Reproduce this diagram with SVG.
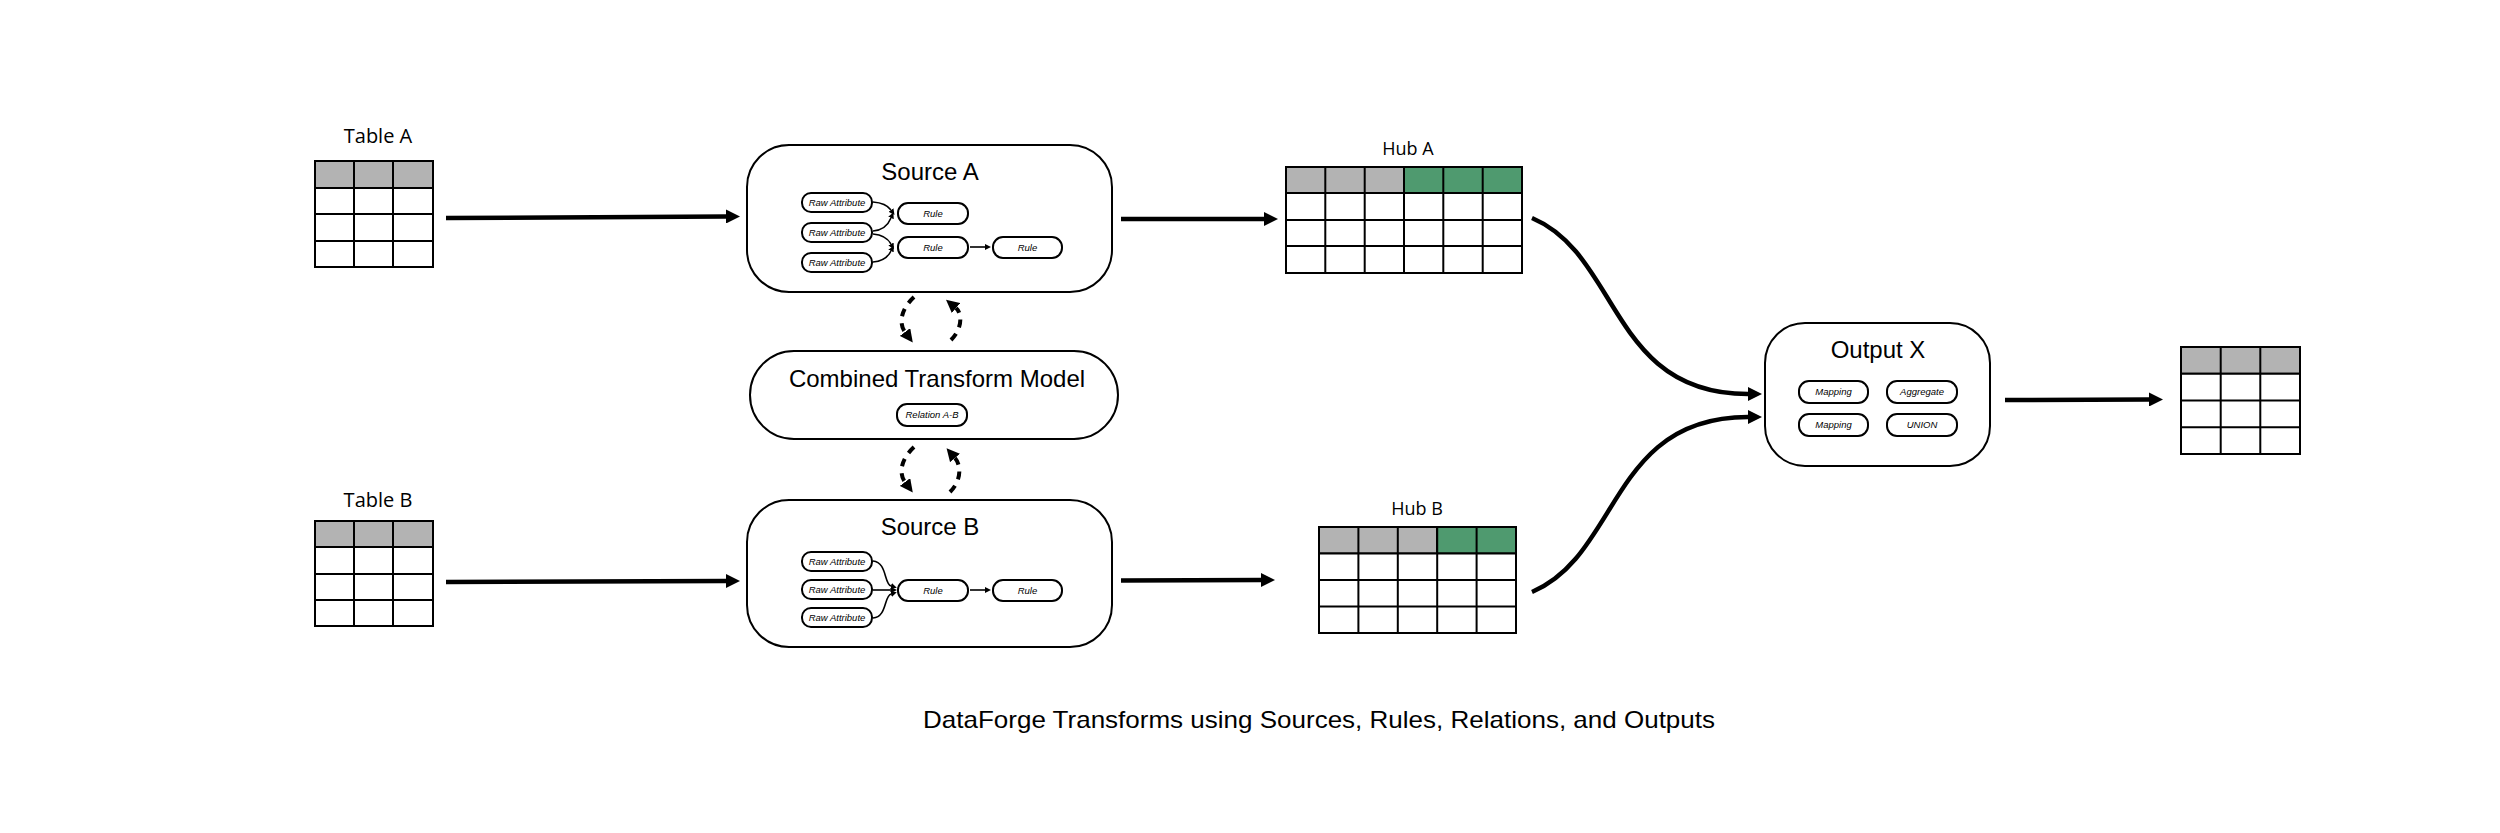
<svg xmlns="http://www.w3.org/2000/svg" width="2500" height="833" viewBox="0 0 2500 833">
<style>
.bg{fill:#ffffff}
.cell{fill:#ffffff;stroke:#000;stroke-width:2}
.hdr{fill:#b3b3b3;stroke:#000;stroke-width:2}
.grn{fill:#4f9a6f;stroke:#000;stroke-width:2}
.gl{stroke:#000;stroke-width:2;fill:none}
.box{fill:#fff;stroke:#000;stroke-width:2}
.sbox{fill:#fff;stroke:#000;stroke-width:2}
.lbl{font-family:"Open Sans","Liberation Sans",sans-serif;fill:#000;text-anchor:middle}
.hand{font-family:"Liberation Sans","DejaVu Sans",sans-serif;fill:#000;text-anchor:middle;font-size:24px}
.small{font-family:"Liberation Sans","DejaVu Sans",sans-serif;fill:#000;text-anchor:middle;font-size:9.5px;font-style:italic}
.conn{fill:none;stroke:#000;stroke-width:4.5}
.sconn{fill:none;stroke:#000;stroke-width:1.6}
.dash{fill:none;stroke:#000;stroke-width:4;stroke-dasharray:8 7}
</style>
<defs>
<marker id="ah" viewBox="0 0 14 14" refX="0" refY="7" markerWidth="14" markerHeight="14" markerUnits="userSpaceOnUse" orient="auto"><path d="M0,0 L14,7 L0,14 z" fill="#000"/></marker>
<marker id="ahd" viewBox="0 0 13 13" refX="0" refY="6.5" markerWidth="13" markerHeight="13" markerUnits="userSpaceOnUse" orient="auto"><path d="M0,0 L13,6.5 L0,13 z" fill="#000"/></marker>
<marker id="ahs" viewBox="0 0 6 6" refX="0" refY="3" markerWidth="6" markerHeight="6" markerUnits="userSpaceOnUse" orient="auto"><path d="M0,0 L6,3 L0,6 z" fill="#000"/></marker>
</defs>
<rect class="bg" x="0" y="0" width="2500" height="833"/>

<g id="table-a">
<text class="lbl" x="378" y="143" font-size="20">Table A</text>
<rect class="hdr" x="315" y="161" width="118" height="27"/>
<rect class="cell" x="315" y="188" width="118" height="79"/>
<path class="gl" d="M354,161 V267 M393,161 V267 M315,214 H433 M315,241 H433"/>
</g>

<g id="table-b">
<text class="lbl" x="378" y="507" font-size="20">Table B</text>
<rect class="hdr" x="315" y="521" width="118" height="26"/>
<rect class="cell" x="315" y="547" width="118" height="79"/>
<path class="gl" d="M354,521 V626 M393,521 V626 M315,574 H433 M315,600 H433"/>
</g>

<g id="source-a">
<rect class="box" x="747" y="145" width="365" height="147" rx="42"/>
<text class="hand" x="930" y="180">Source A</text>
<rect class="sbox" x="802" y="193" width="70" height="19" rx="9"/>
<text class="small" x="837" y="205.5">Raw Attribute</text>
<rect class="sbox" x="802" y="223" width="70" height="19" rx="9"/>
<text class="small" x="837" y="235.5">Raw Attribute</text>
<rect class="sbox" x="802" y="253" width="70" height="19" rx="9"/>
<text class="small" x="837" y="265.5">Raw Attribute</text>
<rect class="sbox" x="898" y="203" width="70" height="21" rx="10"/>
<text class="small" x="933" y="216.5">Rule</text>
<rect class="sbox" x="898" y="237" width="70" height="21" rx="10"/>
<text class="small" x="933" y="250.5">Rule</text>
<rect class="sbox" x="993" y="237" width="69" height="21" rx="10"/>
<text class="small" x="1027.5" y="250.5">Rule</text>
<path class="sconn" marker-end="url(#ahs)" d="M873,202 Q886,203 891,210"/>
<path class="sconn" marker-end="url(#ahs)" d="M873,231 Q886,230 891,218"/>
<path class="sconn" marker-end="url(#ahs)" d="M873,234 Q886,235 891,244"/>
<path class="sconn" marker-end="url(#ahs)" d="M873,262 Q886,261 891,251"/>
<path class="sconn" marker-end="url(#ahs)" d="M970,247 L985,247"/>
</g>

<g id="combined-model">
<rect class="box" x="750" y="351" width="368" height="88" rx="44"/>
<text class="hand" x="937" y="387">Combined Transform Model</text>
<rect class="sbox" x="897" y="404" width="70" height="22" rx="10"/>
<text class="small" x="932" y="418">Relation A-B</text>
</g>

<g id="source-b">
<rect class="box" x="747" y="500" width="365" height="147" rx="42"/>
<text class="hand" x="930" y="535">Source B</text>
<rect class="sbox" x="802" y="552" width="70" height="19" rx="9"/>
<text class="small" x="837" y="564.5">Raw Attribute</text>
<rect class="sbox" x="802" y="580" width="70" height="19" rx="9"/>
<text class="small" x="837" y="592.5">Raw Attribute</text>
<rect class="sbox" x="802" y="608" width="70" height="19" rx="9"/>
<text class="small" x="837" y="620.5">Raw Attribute</text>
<rect class="sbox" x="898" y="580" width="70" height="21" rx="10"/>
<text class="small" x="933" y="593.5">Rule</text>
<rect class="sbox" x="993" y="580" width="69" height="21" rx="10"/>
<text class="small" x="1027.5" y="593.5">Rule</text>
<path class="sconn" marker-end="url(#ahs)" d="M873,561 C887,562 884,584 891,586"/>
<path class="sconn" marker-end="url(#ahs)" d="M873,590 L891,590"/>
<path class="sconn" marker-end="url(#ahs)" d="M873,618 C887,617 884,596 891,594"/>
<path class="sconn" marker-end="url(#ahs)" d="M970,590 L985,590"/>
</g>

<g id="hub-a">
<text class="lbl" x="1408" y="155" font-size="18">Hub A</text>
<rect class="hdr" x="1286" y="167" width="118" height="26"/>
<rect class="grn" x="1404" y="167" width="118" height="26"/>
<rect class="cell" x="1286" y="193" width="236" height="80"/>
<path class="gl" d="M1325.3,167 V273 M1364.7,167 V273 M1404,167 V273 M1443.3,167 V273 M1482.7,167 V273 M1286,220 H1522 M1286,246 H1522"/>
</g>

<g id="hub-b">
<text class="lbl" x="1417" y="515" font-size="18">Hub B</text>
<rect class="hdr" x="1319" y="527" width="118" height="26.5"/>
<rect class="grn" x="1437" y="527" width="79" height="26.5"/>
<rect class="cell" x="1319" y="553.5" width="197" height="79.5"/>
<path class="gl" d="M1358.4,527 V633 M1397.8,527 V633 M1437.2,527 V633 M1476.6,527 V633 M1319,580 H1516 M1319,606.5 H1516"/>
</g>

<g id="output-x">
<rect class="box" x="1765" y="323" width="225" height="143" rx="40"/>
<text class="hand" x="1878" y="358">Output X</text>
<rect class="sbox" x="1799" y="381" width="69" height="22" rx="10"/>
<text class="small" x="1833.5" y="395" font-style="normal">Mapping</text>
<rect class="sbox" x="1887" y="381" width="70" height="22" rx="10"/>
<text class="small" x="1922" y="395" font-style="normal">Aggregate</text>
<rect class="sbox" x="1799" y="414" width="69" height="22" rx="10"/>
<text class="small" x="1833.5" y="428" font-style="normal">Mapping</text>
<rect class="sbox" x="1887" y="414" width="70" height="22" rx="10"/>
<text class="small" x="1922" y="428" font-style="normal">UNION</text>
</g>

<g id="final-table">
<rect class="hdr" x="2181" y="347" width="119" height="26.75"/>
<rect class="cell" x="2181" y="373.75" width="119" height="80.25"/>
<path class="gl" d="M2220.7,347 V454 M2260.3,347 V454 M2181,400.5 H2300 M2181,427.25 H2300"/>
</g>

<g id="connectors">
<path class="conn" marker-end="url(#ah)" d="M446,218 L726,216.5"/>
<path class="conn" marker-end="url(#ah)" d="M446,582 L726,581"/>
<path class="conn" marker-end="url(#ah)" d="M1121,219 L1264,219"/>
<path class="conn" marker-end="url(#ah)" d="M1121,580.5 L1261,580"/>
<path class="conn" marker-end="url(#ah)" d="M1532,218 C1620,255 1610,394 1748,394"/>
<path class="conn" marker-end="url(#ah)" d="M1532,592 C1620,555 1610,417 1748,417"/>
<path class="conn" marker-end="url(#ah)" d="M2005,400 L2149,399.5"/>
<path class="dash" marker-end="url(#ahd)" d="M914,297 C900,310 899,324 905,332"/>
<path class="dash" marker-end="url(#ahd)" d="M951,340 C963,328 962,313 956,308"/>
<path class="dash" marker-end="url(#ahd)" d="M914,447 C900,460 899,474 905,482"/>
<path class="dash" marker-end="url(#ahd)" d="M950,492 C962,480 961,465 955,458"/>
</g>

<text class="hand" x="1319" y="728" font-size="27" textLength="792" lengthAdjust="spacingAndGlyphs">DataForge Transforms using Sources, Rules, Relations, and Outputs</text>
</svg>
